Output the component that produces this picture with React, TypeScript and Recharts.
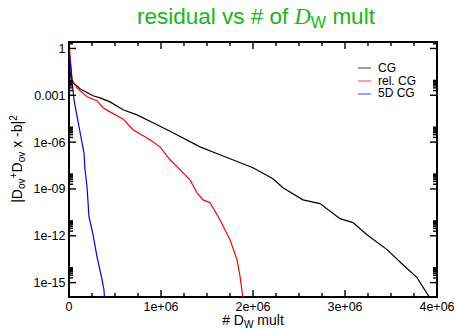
import React from "react";
import { LineChart, Line, XAxis, YAxis, Legend, ReferenceArea } from "recharts";

// residual curves (x = # of D_W multiplications)
const cgX = [0, 10900, 21700, 43500, 120000, 261000, 337000, 446000, 587000, 739000, 913000, 1130000, 1424000, 1641000, 2000000, 2217000, 2326000, 2543000, 2728000, 2946000, 3087000, 3239000, 3457000, 3630000, 3783000, 3924000];
const cgY = [2.2, 0.043, 0.0114, 0.0063, 0.0026, 9.3e-4, 6.9e-4, 3.8e-4, 1.18e-4, 5.6e-5, 1.73e-5, 4e-6, 5e-7, 1.55e-7, 2.3e-8, 4.5e-9, 1.2e-9, 2e-10, 1.15e-10, 1.26e-11, 7e-12, 1.18e-12, 1.3e-13, 1.4e-14, 2.1e-15, 1e-16];

const relX = [0, 21700, 32600, 87000, 196000, 304000, 370000, 446000, 587000, 696000, 880000, 989000, 1098000, 1174000, 1315000, 1391000, 1457000, 1533000, 1641000, 1750000, 1826000, 1859000, 1891000];
const relY = [2.2, 0.066, 0.0098, 0.003, 8e-4, 4.5e-4, 1.6e-4, 8.7e-5, 3.1e-5, 6.2e-6, 1.4e-6, 5e-7, 7.4e-8, 2.7e-8, 3.9e-9, 5.7e-10, 2e-10, 1.3e-10, 1.07e-11, 5.6e-13, 3e-14, 2.5e-15, 1e-16];

const fiveDX = [0, 5400, 32600, 54300, 109000, 163000, 174000, 196000, 217000, 261000, 304000, 359000, 380000, 386000];
const fiveDY = [2.2, 0.39, 0.0098, 5.1e-4, 9.5e-6, 2e-7, 1.7e-8, 1.35e-9, 1.7e-11, 1.2e-12, 4.7e-14, 1.6e-15, 3.5e-16, 1e-16];

const seriesNames = ["CG", "rel. CG", "5D CG"];
const seriesColors = ["#000000", "#ff0000", "#0000ff"];

const xMajor = [0, 1000000, 2000000, 3000000, 4000000];
const xMajorLabels = ["0", "1e+06", "2e+06", "3e+06", "4e+06"];
const xMinor = [250000, 500000, 750000, 1250000, 1500000, 1750000, 2250000, 2500000, 2750000, 3250000, 3500000, 3750000];

const yMajor = [1e-15, 1e-12, 1e-9, 1e-6, 1e-3, 1];
const yMajorLabels = ["1e-15", "1e-12", "1e-09", "1e-06", "0.001", "1"];
const yMinorSteps = [2, 3, 4, 5, 6, 7, 8, 9];

const X_DOMAIN: [number, number] = [0, 4000000];
const Y_DOMAIN: [number, number] = [1.2e-16, 2.6];

const W = 456;
const H = 331;
const MARGIN = { top: 42, right: 19, bottom: 0, left: 0 };
const X_AXIS_H = 34;
const Y_AXIS_W = 69;
const PLOT_TOP = MARGIN.top;
const PLOT_BOTTOM = H - MARGIN.bottom - X_AXIS_H;
const PLOT_LEFT = MARGIN.left + Y_AXIS_W;
const PLOT_RIGHT = W - MARGIN.right;
const X_TICK_MARGIN = 5;
const Y_TICK_MARGIN = 3.5;
const MAJOR_LEN = 7;
const MINOR_LEN = 4;

const FONT = "'Liberation Sans', Arial, Helvetica, sans-serif";

const toPoints = (xs: number[], ys: number[]) => xs.map((x, i) => ({ x, y: ys[i] }));

const cgData = toPoints(cgX, cgY);
const relData = toPoints(relX, relY);
const fiveDData = toPoints(fiveDX, fiveDY);

const yMinor = yMajor
  .flatMap((m) => yMinorSteps.map((k) => k * m))
  .filter((v) => v < Y_DOMAIN[1]);

const xTicks = [...xMajor, ...xMinor].sort((a, b) => a - b);
const yTicks = [...yMajor, ...yMinor].sort((a, b) => a - b);

// inward ticks on bottom + top, label only on the majors
const XTick = (props: any) => {
  const { x, y, payload } = props;
  const mi = xMajor.indexOf(payload.value);
  const len = mi >= 0 ? MAJOR_LEN : MINOR_LEN;
  return (
    <g>
      <path d={`M${x},${PLOT_BOTTOM}V${PLOT_BOTTOM - len}`} stroke="#000" strokeWidth={1.4} fill="none" />
      <path d={`M${x},${PLOT_TOP}V${PLOT_TOP + len}`} stroke="#000" strokeWidth={1.4} fill="none" />
      {mi >= 0 && (
        <text x={x} y={y} dy="0.71em" textAnchor="middle" fill="#000" fontSize={12.5} fontFamily={FONT}>
          {xMajorLabels[mi]}
        </text>
      )}
    </g>
  );
};

// inward ticks on left + right, label only on the majors
const YTick = (props: any) => {
  const { x, y, payload } = props;
  const mi = yMajor.indexOf(payload.value);
  const len = mi >= 0 ? MAJOR_LEN : MINOR_LEN;
  return (
    <g>
      <path d={`M${PLOT_LEFT},${y}H${PLOT_LEFT + len}`} stroke="#000" strokeWidth={1.4} fill="none" />
      <path d={`M${PLOT_RIGHT - len},${y}H${PLOT_RIGHT}`} stroke="#000" strokeWidth={1.4} fill="none" />
      {mi >= 0 && (
        <text x={x} y={y} dy="0.355em" textAnchor="end" fill="#000" fontSize={12.5} fontFamily={FONT}>
          {yMajorLabels[mi]}
        </text>
      )}
    </g>
  );
};

const renderLegend = () => (
  <div style={{ fontFamily: FONT, fontSize: 12, color: "#000" }}>
    {seriesNames.map((name, i) => (
      <div key={name} style={{ display: "flex", alignItems: "center", height: 12.7, lineHeight: "12.7px" }}>
        <svg width={13} height={4} style={{ marginRight: 7 }}>
          <path d="M0,2H13" stroke={seriesColors[i]} strokeWidth={1} strokeOpacity={0.75} />
        </svg>
        <span>{name}</span>
      </div>
    ))}
  </div>
);

const sub = { fontSize: "0.72em", verticalAlign: "-0.3em" } as const;
const sup = { fontSize: "0.72em", verticalAlign: "0.55em" } as const;

export default function App() {
  return (
    <div style={{ position: "absolute", left: 0, top: 0, width: W, height: H, background: "#fff" }}>
      <LineChart width={W} height={H} margin={MARGIN}>
        {/* plot frame */}
        <ReferenceArea xAxisId="x" yAxisId="y" x1={X_DOMAIN[0]} x2={X_DOMAIN[1]} y1={Y_DOMAIN[0]} y2={Y_DOMAIN[1]}
          fill="none" fillOpacity={0} stroke="#000" strokeWidth={2} ifOverflow="visible" />

        <XAxis xAxisId="x" dataKey="x" type="number" domain={X_DOMAIN} allowDataOverflow ticks={xTicks}
          tick={XTick} axisLine={false} tickLine={false} tickSize={0} tickMargin={X_TICK_MARGIN}
          height={X_AXIS_H} interval={0} />
        <YAxis yAxisId="y" scale="log" type="number" domain={Y_DOMAIN} allowDataOverflow ticks={yTicks}
          tick={YTick} axisLine={false} tickLine={false} tickSize={0} tickMargin={Y_TICK_MARGIN}
          width={Y_AXIS_W} interval={0} />

        <Line data={cgData} dataKey="y" name={seriesNames[0]} xAxisId="x" yAxisId="y" type="linear"
          stroke={seriesColors[0]} strokeWidth={1.2} dot={false} isAnimationActive={false} />
        <Line data={relData} dataKey="y" name={seriesNames[1]} xAxisId="x" yAxisId="y" type="linear"
          stroke={seriesColors[1]} strokeWidth={1.2} dot={false} isAnimationActive={false} />
        <Line data={fiveDData} dataKey="y" name={seriesNames[2]} xAxisId="x" yAxisId="y" type="linear"
          stroke={seriesColors[2]} strokeWidth={1.2} dot={false} isAnimationActive={false} />

        <Legend layout="vertical" align="center" verticalAlign="middle" content={renderLegend}
          wrapperStyle={{ position: "absolute", left: 358, top: 62, width: 90, height: 40 }} />
      </LineChart>

      <div style={{ position: "absolute", left: 137, top: 6, fontFamily: FONT, fontSize: 22.5, lineHeight: "22px",
        color: "#14b814", whiteSpace: "nowrap" }}>
        residual vs # of{" "}
        <span style={{ fontFamily: "'Liberation Serif', 'DejaVu Serif', serif", fontStyle: "italic" }}>D</span>
        <span style={{ fontSize: "0.72em", verticalAlign: "-0.25em" }}>W</span> mult
      </div>

      <div style={{ position: "absolute", left: 253, top: 313, transform: "translateX(-50%)", fontFamily: FONT,
        fontSize: 14, lineHeight: "14px", whiteSpace: "nowrap", color: "#000" }}>
        # D<span style={sub}>W</span> mult
      </div>

      <div style={{ position: "absolute", left: 18, top: 159, transform: "translate(-50%, -50%) rotate(-90deg)",
        fontFamily: FONT, fontSize: 14, lineHeight: "14px", whiteSpace: "nowrap", color: "#000" }}>
        |D<span style={sub}>ov</span><span style={sup}>+</span>D<span style={sub}>ov</span> x -b|<span style={sup}>2</span>
      </div>
    </div>
  );
}
